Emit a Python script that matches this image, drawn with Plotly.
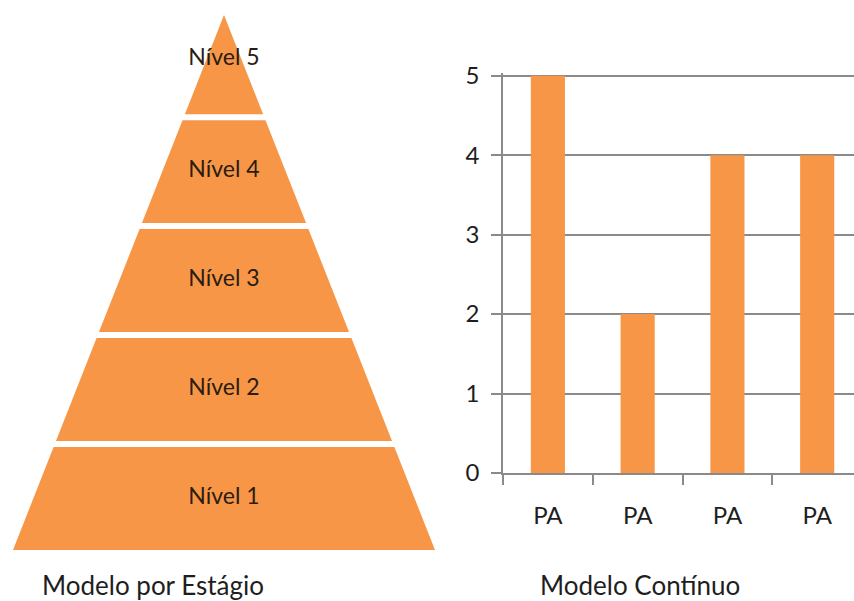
import plotly.graph_objects as go

# ---- data ----
levels = ["Nível 1", "Nível 2", "Nível 3", "Nível 4", "Nível 5"]
level_base = [0, 1, 2, 3, 4]
level_gap = 0.055
apex = 4.91
base_halfwidth = 211

categories = ["PA1", "PA2", "PA3", "PA4"]
cat_labels = ["PA", "PA", "PA", "PA"]
values = [5, 2, 4, 4]
y_ticks = [0, 1, 2, 3, 4, 5]

caption_left = "Modelo por Estágio"
caption_right = "Modelo Contínuo"

ORANGE = "#F79646"
GRID = "#8a8a8a"
TXT = "#1e1e1e"
FONT = "Lato"

fig = go.Figure()

def hw(y):
    return base_halfwidth * (apex - y) / apex

# pyramid bands
for i, (name, b) in enumerate(zip(levels, level_base)):
    top = apex if i == len(levels) - 1 else b + 1 - level_gap
    xs = [-hw(b), hw(b), hw(top), -hw(top), -hw(b)]
    ys = [b, b, top, top, b]
    fig.add_trace(go.Scatter(x=xs, y=ys, fill="toself", fillcolor=ORANGE,
                             mode="lines", line=dict(width=0, color=ORANGE),
                             xaxis="x2", yaxis="y2", showlegend=False, hoverinfo="skip"))
    label_y = (b + top) / 2 if i < len(levels) - 1 else b + 0.5
    fig.add_trace(go.Scatter(x=[0], y=[label_y], mode="text", text=[name],
                             textfont=dict(family=FONT, size=23, color="#2a1c12"),
                             xaxis="x2", yaxis="y2", showlegend=False, hoverinfo="skip",
                             cliponaxis=False))

# bar chart
fig.add_trace(go.Bar(x=categories, y=values, marker=dict(color=ORANGE, line=dict(width=0)),
                     width=0.38, showlegend=False, xaxis="x", yaxis="y"))

fig.update_layout(
    width=854, height=601,
    margin=dict(l=0, r=0, t=0, b=0, pad=0, autoexpand=False),
    paper_bgcolor="white", plot_bgcolor="white",
    font=dict(family=FONT, color=TXT),
    xaxis=dict(domain=[503/854, 1.0], range=[-0.5, 3.41], type="category",
               tickvals=categories, ticktext=cat_labels,
               showline=True, linecolor=GRID, linewidth=1.5,
               ticks="outside", tickson="boundaries", ticklen=10, tickcolor=GRID, tickwidth=1.5,
               tickfont=dict(family=FONT, size=24, color=TXT), ticklabelstandoff=20,
               showgrid=False, zeroline=False, fixedrange=True, automargin=False),
    yaxis=dict(domain=[(601-473)/601, (601-72.5)/601], range=[0, 5.04],
               tickvals=y_ticks, showline=True, linecolor=GRID, linewidth=1.5,
               ticks="outside", ticklen=10, tickcolor=GRID, tickwidth=1.5,
               tickfont=dict(family=FONT, size=24, color=TXT), ticklabelstandoff=7,
               showgrid=True, gridcolor=GRID, gridwidth=1.5, zeroline=False, automargin=False),
    xaxis2=dict(domain=[0, 448/854], range=[-224, 224], visible=False, fixedrange=True),
    yaxis2=dict(domain=[(601-550)/601, (601-15)/601], range=[0, apex], visible=False),
    annotations=[
        dict(text=caption_left, x=153/854, y=(601-585)/601, xref="paper", yref="paper",
             xanchor="center", yanchor="middle",
             showarrow=False, font=dict(family=FONT, size=26, color=TXT)),
        dict(text=caption_right, x=640/854, y=(601-585)/601, xref="paper", yref="paper",
             xanchor="center", yanchor="middle",
             showarrow=False, font=dict(family=FONT, size=26, color=TXT)),
    ],
)

fig.write_html("out.html")
